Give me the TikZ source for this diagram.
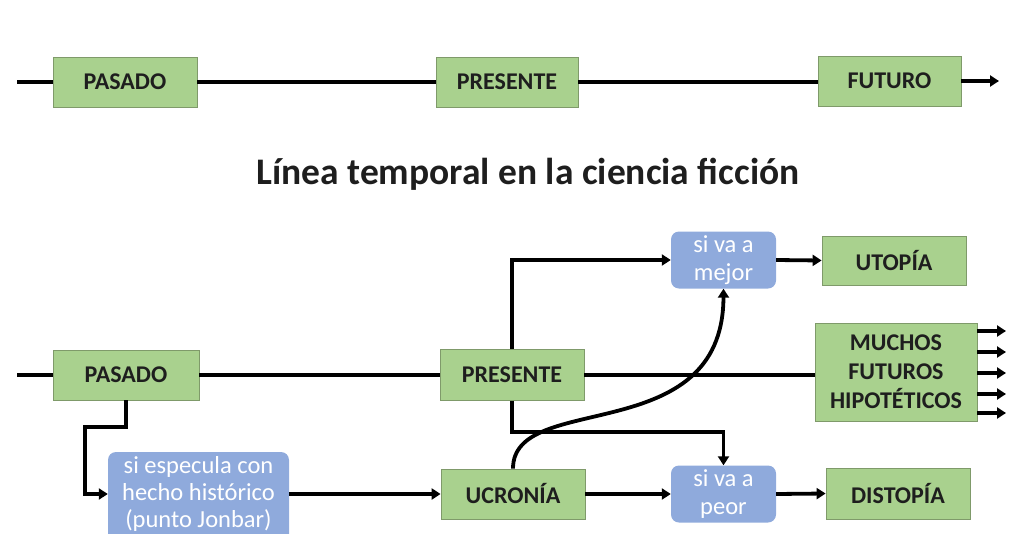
\documentclass[tikz,border=0pt]{standalone}
\usepackage{fontspec}
\setmainfont{Carlito}
\usetikzlibrary{arrows.meta}
\definecolor{gfill}{HTML}{A9D18E}
\definecolor{gline}{HTML}{7F9A6A}
\definecolor{bfill}{HTML}{8FAADC}
\definecolor{tdark}{HTML}{1E1E1E}
\tikzset{
  gbox/.style={draw=gline, line width=0.8pt, fill=gfill, inner sep=0pt,
    font=\fontsize{24}{29}\selectfont\bfseries, text=tdark, align=center},
  bbox/.style={fill=bfill, rounded corners=8pt, inner sep=0pt,
    font=\fontsize{24.5}{28}\selectfont, text=white, align=center},
  conn/.style={line width=3.8pt, black},
  arr/.style={conn, -{Triangle[length=9pt,width=11pt]}},
}
\begin{document}
\begin{tikzpicture}[x=1pt,y=-1pt]
\useasboundingbox (0,0) rectangle (1015,533);
% top timeline
\node[gbox, minimum width=144pt, minimum height=50pt] (pas1) at (125,82) {PASADO};
\node[gbox, minimum width=142pt, minimum height=50pt] (pre1) at (507,82) {PRESENTE};
\node[gbox, minimum width=143pt, minimum height=50pt] (fut1) at (889.5,81) {FUTURO};
\coordinate (s1) at (17,82);
\coordinate (e1) at (999,81);
\draw[conn] (s1) -- (pas1.west);
\draw[conn] (pas1.east) -- (pre1.west);
\draw[conn] (pre1.east) -- (pre1.east -| fut1.west);
\draw[arr] (fut1.east) -- (e1);
% title
\node[font=\fontsize{37.5}{42}\selectfont\bfseries, text=tdark] (title) at (528,174) {Línea temporal en la ciencia ficción};
% bottom
\node[gbox, minimum width=146pt, minimum height=50pt] (pas2) at (126,375) {PASADO};
\node[gbox, minimum width=144pt, minimum height=51pt] (pre2) at (512,375) {PRESENTE};
\node[gbox, minimum width=162pt, minimum height=98pt] (much) at (896,372) {MUCHOS\\FUTUROS\\HIPOTÉTICOS};
\node[bbox, minimum width=105pt, minimum height=57pt] (mejor) at (723.5,260) {si va a\\mejor};
\node[gbox, minimum width=144pt, minimum height=49pt] (utop) at (894,260.5) {UTOPÍA};
\node[gbox, minimum width=144pt, minimum height=50pt] (ucro) at (513,494) {UCRONÍA};
\node[bbox, minimum width=105pt, minimum height=57pt] (peor) at (723.5,494) {si va a\\peor};
\node[gbox, minimum width=144pt, minimum height=51pt] (dist) at (898,493.5) {DISTOPÍA};
\node[bbox, font=\fontsize{24.5}{27}\selectfont, minimum width=181pt, minimum height=114pt] (espec) at (198.5,509)
  {\strut si especula con\\\strut hecho histórico\\\strut (punto Jonbar)\\\strut};
\coordinate (s2) at (17,375);
\draw[conn] (s2) -- (pas2.west);
\draw[conn] (pas2.east) -- (pre2.west);
\draw[conn] (pre2.east) -- (pre2.east -| much.west);
\foreach \yy in {331,352,373,394,413}{
  \draw[arr] (much.east |- 0,\yy) -- (1006,\yy);
}
\draw[arr] (pre2.north) |- (mejor.west);
\draw[arr] (pre2.south) -- (pre2.south |- 0,432) -| (peor.north);
\draw[arr] (mejor.east) -- (utop.west);
\draw[arr] (ucro.east) -- (peor.west);
\draw[arr] (peor.east) -- (dist.west);
\draw[arr] (espec.east |- ucro.west) -- (ucro.west);
\draw[arr] (pas2.south) -- (pas2.south |- 0,427) -- (85,427) |- (espec.west |- ucro.west);
\draw[arr] (ucro.north) .. controls (513,390) and (723,450) .. (mejor.south);
\end{tikzpicture}
\end{document}
